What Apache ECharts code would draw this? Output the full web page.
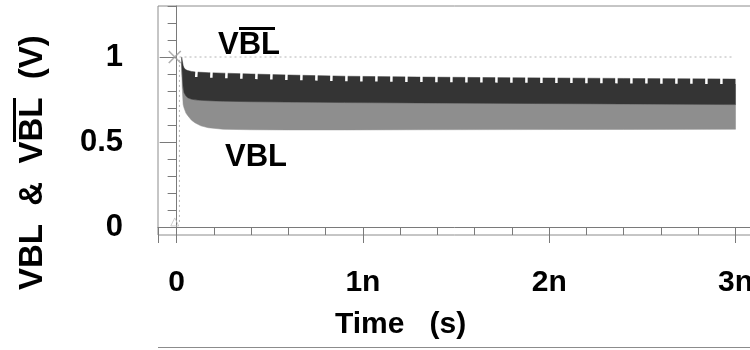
<!DOCTYPE html>
<html>
<head>
<meta charset="utf-8">
<title>VBL and VBL-bar transient</title>
<script src="https://cdn.jsdelivr.net/npm/echarts@6/dist/echarts.min.js"></script>
<style>
  html, body { margin: 0; padding: 0; background: #fff; }
  #chart { width: 750px; height: 350px; }
</style>
</head>
<body>
<div id="chart"></div>
<script>
// time in ns, voltages in V (envelopes)
const timeNs     = [0.027, 0.03, 0.035, 0.04, 0.05, 0.06, 0.08, 0.1, 0.13, 0.17, 0.25, 0.4, 0.6, 0.9, 1.3, 1.8, 2.4, 3.0]
const vblLow     = [0.93, 0.82, 0.72, 0.7, 0.67, 0.655, 0.628, 0.612, 0.595, 0.584, 0.575, 0.572, 0.571, 0.571, 0.572, 0.573, 0.574, 0.575]
const vblbarLow  = [0.97, 0.9, 0.82, 0.79, 0.77, 0.76, 0.752, 0.748, 0.745, 0.743, 0.74, 0.737, 0.735, 0.732, 0.73, 0.727, 0.724, 0.72]
const vblbarHigh = [1.0, 0.98, 0.95, 0.935, 0.925, 0.92, 0.915, 0.912, 0.91, 0.908, 0.905, 0.9, 0.894, 0.887, 0.882, 0.878, 0.874, 0.87]

// dotted reference trace
const refTime = [0.015, 0.015, 2.99]
const refVolt = [0.03, 1.0, 1.0]

// trace markers
const crossMark = [-0.01, 1.0]
const triMark = [-0.01, 0.03]

// axis ticks
const xTicks = [0, 1, 2, 3]
const xTickLabels = ['0', '1n', '2n', '3n']
const xRulerEdge = -0.1
const xMinorTicks = [0.2, 0.4, 0.6, 0.8, 1.2, 1.4, 1.6, 1.8, 2.2, 2.4, 2.6, 2.8]
const yTicks = [0, 0.5, 1]
const yTickLabels = ['0', '0.5', '1']
const yMinorTicks = [0.1, 0.2, 0.3, 0.4, 0.6, 0.7, 0.8, 0.9, 1.1, 1.2, 1.3]

const FONT = 'Liberation Sans, Arial, sans-serif'
const X_MIN = -0.1, X_MAX = 3.228
const Y_MIN = -0.047, Y_MAX = 1.3

const chart = echarts.init(document.getElementById('chart'))

const pts = ys => timeNs.map((t, i) => [t, ys[i]])
const ripple = pts(vblbarHigh).filter(p => p[0] >= 0.1)

// filled band between two envelopes, drawn through the axis scales
const band = (name, lowArr, highArr, fill) => ({
  name, type: 'custom', data: [0],
  renderItem: (params, api) => {
    const top = timeNs.map((t, i) => api.coord([t, highArr[i]]))
    const bottom = timeNs.map((t, i) => api.coord([t, lowArr[i]])).reverse()
    return {
      type: 'polygon',
      shape: { points: top.concat(bottom) },
      style: { fill, stroke: fill, lineWidth: 0.5 }
    }
  }
})

const rulerColor = '#7a7a7a'

const option = {
  animation: false,
  backgroundColor: '#ffffff',
  grid: {
    left: 158, top: 6, width: 620, height: 229,
    outerBoundsMode: 'none', containLabel: false,
    show: true, borderColor: '#8c8c8c', borderWidth: 1, backgroundColor: '#fff'
  },
  xAxis: [
    {
      type: 'value', min: X_MIN, max: X_MAX, position: 'bottom', offset: 6,
      splitLine: { show: false },
      axisLine: { show: true, lineStyle: { color: rulerColor, width: 1 } },
      axisTick: { show: true, length: 16, customValues: [xRulerEdge].concat(xTicks), lineStyle: { color: rulerColor } },
      axisLabel: {
        show: true, customValues: xTicks, margin: 27,
        formatter: v => xTickLabels[xTicks.indexOf(v)],
        fontFamily: FONT, fontSize: 30, fontWeight: 'bold', color: '#000'
      }
    },
    {
      type: 'value', min: X_MIN, max: X_MAX, position: 'bottom', offset: 6,
      splitLine: { show: false },
      axisLine: { show: false },
      axisTick: { show: true, length: 8, customValues: xMinorTicks, lineStyle: { color: rulerColor } },
      axisLabel: { show: false }
    }
  ],
  yAxis: [
    {
      type: 'value', min: Y_MIN, max: Y_MAX, position: 'left', offset: 5,
      splitLine: { show: false },
      axisLine: { show: true, lineStyle: { color: rulerColor, width: 1 } },
      axisTick: { show: true, length: 17, customValues: yTicks, lineStyle: { color: rulerColor } },
      axisLabel: {
        show: true, customValues: yTicks, margin: 30, padding: [6, 0, 0, 0],
        formatter: v => yTickLabels[yTicks.indexOf(v)],
        fontFamily: FONT, fontSize: 31, fontWeight: 'bold', color: '#000'
      }
    },
    {
      type: 'value', min: Y_MIN, max: Y_MAX, position: 'left', offset: 5,
      splitLine: { show: false },
      axisLine: { show: false },
      axisTick: { show: true, length: 9, customValues: yMinorTicks, lineStyle: { color: rulerColor } },
      axisLabel: { show: false }
    }
  ],
  series: [
    band('VBL', vblLow, vblbarLow, '#8e8e8e'),
    band('VBLB', vblbarLow, vblbarHigh, '#343434'),
    {
      name: 'ripple', type: 'line', data: ripple,
      showSymbol: false,
      lineStyle: { color: '#ffffff', width: 10, type: [2.5, 12.5], cap: 'butt' }
    },
    {
      name: 'ref', type: 'line', data: refTime.map((t, i) => [t, refVolt[i]]),
      showSymbol: false,
      lineStyle: { color: '#b4b4b4', width: 1, type: [2, 3] }
    },
    {
      name: 'markers', type: 'scatter',
      data: [
        { value: crossMark, symbol: 'path://M0,0L10,10M10,0L0,10', symbolSize: 12,
          itemStyle: { color: 'none', borderColor: '#9a9a9a', borderWidth: 1.6 } },
        { value: triMark, symbol: 'triangle', symbolSize: 8,
          itemStyle: { color: 'none', borderColor: '#c4c4c4', borderWidth: 1 } }
      ]
    }
  ],
  graphic: [
    {
      type: 'text', x: 218, y: 27, z: 100,
      style: {
        text: '{sp|}{ov|}\n{t|VBL}', align: 'left', verticalAlign: 'top',
        rich: {
          sp: { width: 21, height: 3 },
          ov: { width: 36, height: 3, backgroundColor: '#000' },
          t: { fontFamily: FONT, fontSize: 31, fontWeight: 'bold', fill: '#000', lineHeight: 31 }
        }
      }
    },
    {
      type: 'text', x: 225, y: 142, z: 100,
      style: { text: 'VBL', fontFamily: FONT, fontSize: 31, fontWeight: 'bold', fill: '#000', align: 'left', verticalAlign: 'top' }
    },
    {
      type: 'text', x: 335, y: 310, z: 100,
      style: { text: 'Time   (s)', fontFamily: FONT, fontSize: 30, fontWeight: 'bold', fill: '#000', align: 'left', verticalAlign: 'top' }
    },
    {
      type: 'text', x: 31, y: 290, rotation: Math.PI / 2, z: 100,
      style: {
        text: '{sp|}{ov|}\n{t|VBL  &  VBL  (V)}', align: 'left', verticalAlign: 'middle',
        rich: {
          sp: { width: 148, height: 3 },
          ov: { width: 44, height: 3, backgroundColor: '#000' },
          t: { fontFamily: FONT, fontSize: 33, fontWeight: 'bold', fill: '#000', lineHeight: 33 }
        }
      }
    },
    {
      type: 'line', shape: { x1: 158, y1: 347.5, x2: 750, y2: 347.5 },
      style: { stroke: '#8c8c8c', lineWidth: 1 }
    }
  ]
}

chart.setOption(option)
</script>
</body>
</html>
